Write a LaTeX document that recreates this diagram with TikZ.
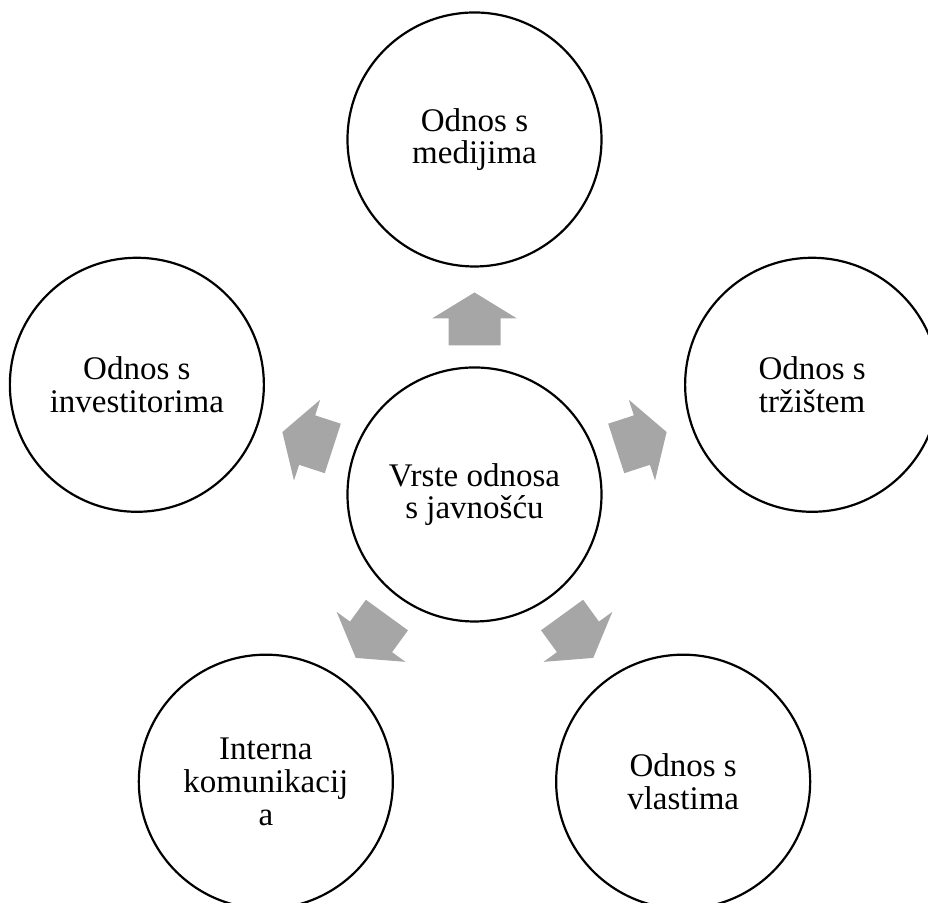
\documentclass[tikz,border=0pt]{standalone}
\usepackage{fontspec}
\setmainfont{Liberation Serif}
\usetikzlibrary{calc}

\definecolor{arrowgray}{RGB}{166,166,166}

\tikzset{
  bubble/.style = {draw, circle, line width = 1.1pt, minimum size = 127pt,
  inner sep = 0, align = center, font = \fontsize{16.5}{16.4}\selectfont},
  blockarrow/.style = {fill = arrowgray}
}

\begin{document}
\begin{tikzpicture}[x = 0.5pt, y = 0.5pt]
  \pgfmathsetmacro{\d}{355}
  \pgfmathsetmacro{\ri}{149}
  \pgfmathsetmacro{\rh}{176}
  \pgfmathsetmacro{\ro}{202}

  \useasboundingbox (0, 0) rectangle (928, 903);
  \clip (0, 0) rectangle (928, 903);

  \coordinate (O) at (474.5, 408.5);

  \node[bubble] (c) at (O) {Vrste odnosa\\s javnošću};
  \node[bubble] (med) at ($(O) + (90:\d)$) {Odnos s\\medijima};
  \node[bubble] (trz) at ($(O) + (18:\d)$) {Odnos s\\tržištem};
  \node[bubble] (vla) at ($(O) + (306:\d)$) {Odnos s\\vlastima};
  \node[bubble] (int) at ($(O) + (234:\d)$) {Interna\\komunikacij\\a};
  \node[bubble] (inv) at ($(O) + (162:\d)$) {Odnos s\\investitorima};

  % arrows pointing out of the middle
  \foreach \a in {90, 18, 306, 234, 162} {
    \fill[blockarrow, shift = {(c.center)}, rotate = \a]
    (\ri, -26) -- (\rh, -26) -- (\rh, -42.5) -- (\ro, 0)
    -- (\rh, 42.5) -- (\rh, 26) -- (\ri, 26) -- cycle;
  }
\end{tikzpicture}
\end{document}
